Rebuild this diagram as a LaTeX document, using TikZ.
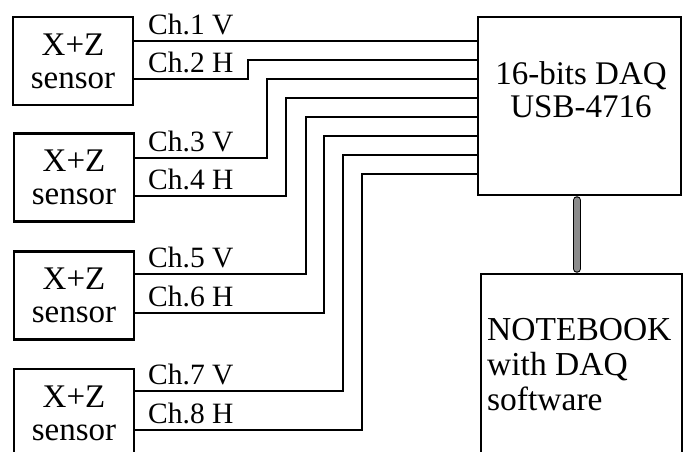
\documentclass[tikz,border=0pt]{standalone}
\usepackage{fontspec}
\setmainfont{Liberation Serif}
\begin{document}
\begin{tikzpicture}[x=1pt, y=-1pt,
  unit/.style={draw, line width=2.4pt, minimum width=120pt, minimum height=88pt, inner sep=0pt, align=center, font=\fontsize{33}{35}\selectfont},
  bigbox/.style={draw, line width=2.4pt, inner sep=0pt},
  boxtext/.style={inner sep=0pt, font=\fontsize{33}{33}\selectfont},
  wire/.style={line width=1.3pt},
  chlabel/.style={anchor=base west, inner sep=0pt, font=\fontsize{29.5}{30}\selectfont}]
\useasboundingbox (0,0) rectangle (688,451);
% sensors
\node[unit] (s1) at (73,61) {X+Z\\[-2pt]sensor};
\node[unit] (s2) at (74,177.5) {X+Z\\[-2pt]sensor};
\node[unit] (s3) at (74,295.5) {X+Z\\[-2pt]sensor};
\node[unit] (s4) at (74,413) {X+Z\\[-2pt]sensor};
% DAQ and notebook
\node[bigbox, minimum width=203pt, minimum height=178pt] (daq) at (579.5,106) {};
\node[boxtext, align=center] (daqtxt) at (581,90) {16-bits DAQ\\USB-4716};
\node[bigbox, minimum width=201pt, minimum height=200pt] (nb) at (581.5,374) {};
\node[boxtext, align=left, anchor=west, font=\fontsize{33.5}{35}\selectfont] (nbtxt) at (487,365) {NOTEBOOK\\with DAQ\\software};
% channels
\foreach \s/\yo/\xb/\yi/\lab [count=\i] in {s1/41/250/41/{Ch.1 V}, s1/79/248/60/{Ch.2 H},
    s2/158/267/79/{Ch.3 V}, s2/196/286/98/{Ch.4 H}, s3/274/306/117/{Ch.5 V},
    s3/313/324/136/{Ch.6 H}, s4/391/343/155/{Ch.7 V}, s4/430/362/174/{Ch.8 H}}{
  \draw[wire] (\s.east |- 0,\yo) -| (\xb,\yi) -- (daq.west |- 0,\yi);
  \node[chlabel] (ch\i) at (148,\yo-7) {\lab};
}
% USB cable
\draw[line width=8pt, line cap=round, shorten <=4pt, shorten >=4pt] (daq.south -| 577,0) -- (nb.north -| 577,0);
\draw[gray!90, line width=5.5pt, line cap=round, shorten <=4pt, shorten >=4pt] (daq.south -| 577,0) -- (nb.north -| 577,0);
\end{tikzpicture}
\end{document}
